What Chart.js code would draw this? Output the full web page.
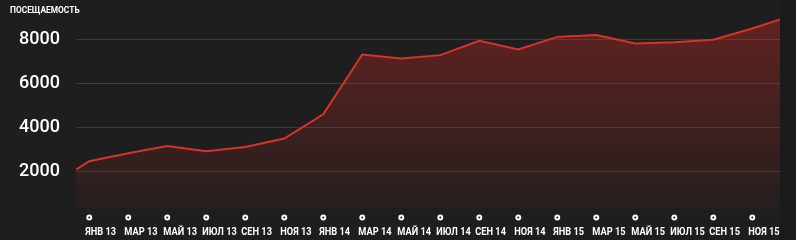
<!DOCTYPE html>
<html>
<head>
<meta charset="utf-8">
<script src="https://cdn.jsdelivr.net/npm/chart.js@4.4.1/dist/chart.umd.min.js"></script>
<style>
  html, body { margin: 0; padding: 0; background: #1e1e1e; }
  #wrap { width: 796px; height: 240px; }
</style>
</head>
<body>
<div id="wrap"><canvas id="c" width="796" height="240"></canvas></div>
<script>
// ---- data ----
const chartTitle = 'ПОСЕЩАЕМОСТЬ';
const tickLabels = ['ЯНВ 13','МАР 13','МАЙ 13','ИЮЛ 13','СЕН 13','НОЯ 13',
                    'ЯНВ 14','МАР 14','МАЙ 14','ИЮЛ 14','СЕН 14','НОЯ 14',
                    'ЯНВ 15','МАР 15','МАЙ 15','ИЮЛ 15','СЕН 15','НОЯ 15'];
const tickMonths = [0,2,4,6,8,10,12,14,16,18,20,22,24,26,28,30,32,34];
const monthIndex = [-0.68,0,2,4,6,8,10,12,14,16,18,20,22,24,26,28,30,32,34,35.42];
const visits     = [2090,2470,2830,3160,2920,3120,3500,4600,7320,7140,7290,7940,7550,8120,8200,7820,7880,7990,8500,8910];
const yTicks = [2000,4000,6000,8000];
const xMin = -0.68, xMax = 35.42, yMin = 300, yMax = 9000;

const points = monthIndex.map((m, i) => ({ x: m, y: visits[i] }));
const condensed = 0.88;

const bgPlugin = {
  id: 'bg',
  beforeDraw(chart) {
    const ctx = chart.ctx, a = chart.chartArea;
    ctx.save();
    ctx.fillStyle = '#1e1e1e';
    ctx.fillRect(0, 0, chart.width, chart.height);
    ctx.fillStyle = '#1a1a1a';
    ctx.fillRect(a.right, 0, chart.width - a.right, chart.height);
    ctx.restore();
  }
};

function drawCondensed(ctx, text, x, y) {
  ctx.save();
  ctx.translate(x, y);
  ctx.scale(condensed, 1);
  ctx.fillText(text, 0, 0);
  ctx.restore();
}

const labelPlugin = {
  id: 'labels',
  afterDraw(chart) {
    const ctx = chart.ctx, sx = chart.scales.x, a = chart.chartArea;
    ctx.save();
    ctx.fillStyle = '#ffffff';
    ctx.textAlign = 'left';
    ctx.textBaseline = 'alphabetic';
    ctx.font = "bold 9.5px Roboto, sans-serif";
    drawCondensed(ctx, chartTitle, 10, 13);
    ctx.font = "bold 10.5px Roboto, sans-serif";
    tickMonths.forEach((m, i) => {
      const px = sx.getPixelForValue(m);
      ctx.beginPath();
      ctx.arc(px, a.bottom + 8.5, 2, 0, Math.PI * 2);
      ctx.fillStyle = '#1e1e1e';
      ctx.fill();
      ctx.lineWidth = 1.9;
      ctx.strokeStyle = '#ffffff';
      ctx.stroke();
      ctx.fillStyle = '#ffffff';
      drawCondensed(ctx, tickLabels[i], px - 4, a.bottom + 26);
    });
    ctx.restore();
  }
};

new Chart(document.getElementById('c'), {
  type: 'line',
  data: {
    datasets: [{
      data: points,
      borderColor: '#d8322a',
      borderWidth: 2,
      tension: 0,
      pointRadius: 0,
      fill: 'start',
      backgroundColor(ctx) {
        const a = ctx.chart.chartArea;
        if (!a) return 'rgba(200,40,35,0.3)';
        const g = ctx.chart.ctx.createLinearGradient(0, a.top, 0, a.bottom);
        g.addColorStop(0, 'rgba(205,42,36,0.38)');
        g.addColorStop(1, 'rgba(205,42,36,0.03)');
        return g;
      }
    }]
  },
  options: {
    responsive: false,
    devicePixelRatio: 1,
    animation: false,
    layout: { padding: { left: 10, right: 16, top: 17.5, bottom: 31 } },
    plugins: {
      legend: { display: false },
      tooltip: { enabled: false },
      title: { display: false }
    },
    scales: {
      x: {
        type: 'linear',
        min: xMin, max: xMax,
        afterBuildTicks(scale) { scale.ticks = tickMonths.map(v => ({ value: v })); },
        afterFit(scale) { scale.height = 0; scale.paddingLeft = 0; scale.paddingRight = 0; },
        ticks: { display: false },
        grid: { display: false, drawTicks: false },
        border: { display: false }
      },
      y: {
        min: yMin, max: yMax,
        afterBuildTicks(scale) { scale.ticks = yTicks.map(v => ({ value: v })); },
        afterFit(scale) { scale.width = 66; scale.paddingTop = 0; scale.paddingBottom = 0; },
        ticks: {
          padding: 16,
          color: '#ffffff',
          font: { family: 'Roboto, sans-serif', size: 18, weight: 500 },
          callback(v) { return String(v); }
        },
        grid: { color: 'rgba(255,255,255,0.13)', lineWidth: 1, drawTicks: false },
        border: { display: false }
      }
    }
  },
  plugins: [bgPlugin, labelPlugin]
});
</script>
</body>
</html>
